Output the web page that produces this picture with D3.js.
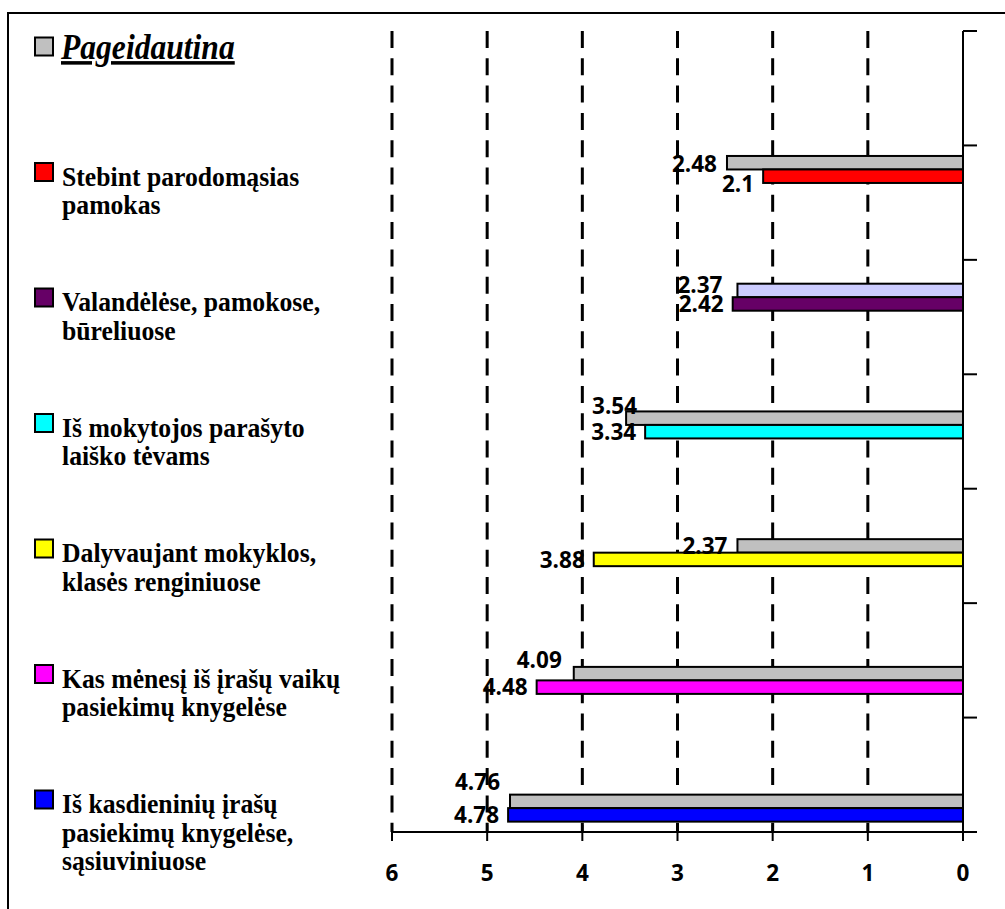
<!DOCTYPE html>
<html>
<head>
<meta charset="utf-8">
<script src="https://cdn.jsdelivr.net/npm/d3@7"></script>
<style>
  html, body { margin: 0; padding: 0; background: #fff; }
  svg { display: block; }
</style>
</head>
<body>
<svg id="chart" width="1005" height="909"></svg>
<script>
// ---- data ----
const categories = [
  "Stebint parodomąsias pamokas",
  "Valandėlėse, pamokose, būreliuose",
  "Iš mokytojos parašyto laiško tėvams",
  "Dalyvaujant mokyklos, klasės renginiuose",
  "Kas mėnesį iš įrašų vaikų pasiekimų knygelėse",
  "Iš kasdieninių įrašų pasiekimų knygelėse, sąsiuviniuose"
];
const categoryLines = [
  ["Stebint parodomąsias", "pamokas"],
  ["Valandėlėse, pamokose,", "būreliuose"],
  ["Iš mokytojos parašyto", "laiško tėvams"],
  ["Dalyvaujant mokyklos,", "klasės renginiuose"],
  ["Kas mėnesį iš įrašų vaikų", "pasiekimų knygelėse"],
  ["Iš kasdieninių įrašų", "pasiekimų knygelėse,", "sąsiuviniuose"]
];
const pageidautina = [2.48, 2.37, 3.54, 2.37, 4.09, 4.76];
const esama = [2.1, 2.42, 3.34, 3.88, 4.48, 4.78];
const legendTitle = "Pageidautina";
const xTicks = [6, 5, 4, 3, 2, 1, 0];

// ---- styles / layout ----
const grayColors = ["#C0C0C0", "#CCCCFF", "#C0C0C0", "#C0C0C0", "#C0C0C0", "#C0C0C0"];
const catColors = ["#FF0000", "#660066", "#00FFFF", "#FFFF00", "#FF00FF", "#0000FF"];
// manual label nudges (layout only) for the first series labels
const grayLabelDy = [1, -6, -12, 0, -14, -19];
const grayLabelDx = [0, -5, 21, 0, -2, 0];

const svg = d3.select("#chart");

// frame (top & left edges visible)
svg.append("line").attr("x1", 8).attr("y1", 13).attr("x2", 1005).attr("y2", 13)
  .attr("stroke", "#000").attr("stroke-width", 2);
svg.append("line").attr("x1", 8).attr("y1", 12).attr("x2", 8).attr("y2", 909)
  .attr("stroke", "#000").attr("stroke-width", 2);

const x = d3.scaleLinear().domain([0, 6]).range([963, 392]);
const y = d3.scaleBand().domain(categories).range([105.6, 872]).padding(0);
const plotTop = 31, plotBottom = 832;
const barH = 13.5;

// dashed gridlines
svg.append("g").selectAll("line").data(xTicks.filter(d => d !== 0)).join("line")
  .attr("x1", d => x(d)).attr("x2", d => x(d))
  .attr("y1", plotTop).attr("y2", plotBottom)
  .attr("stroke", "#000").attr("stroke-width", 3)
  .attr("stroke-dasharray", "17,10.3");

// bars
const gBars = svg.append("g");
categories.forEach((c, i) => {
  const cy = y(c) + y.bandwidth() / 2;
  gBars.append("rect")
    .attr("x", x(pageidautina[i])).attr("y", cy - barH)
    .attr("width", x(0) - x(pageidautina[i])).attr("height", barH)
    .attr("fill", grayColors[i]).attr("stroke", "#000").attr("stroke-width", 2);
  gBars.append("rect")
    .attr("x", x(esama[i])).attr("y", cy)
    .attr("width", x(0) - x(esama[i])).attr("height", barH)
    .attr("fill", catColors[i]).attr("stroke", "#000").attr("stroke-width", 2);
});

// data labels
const lblFont = "'Open Sans', 'DejaVu Sans', sans-serif";
const lblSize = 22.5;
const gLbl = svg.append("g").attr("font-family", lblFont).attr("font-weight", 700)
  .attr("font-size", lblSize).attr("fill", "#000").attr("text-anchor", "end");
categories.forEach((c, i) => {
  const cy = y(c) + y.bandwidth() / 2;
  gLbl.append("text")
    .attr("x", x(pageidautina[i]) - 10 + grayLabelDx[i])
    .attr("y", cy - barH / 2 + grayLabelDy[i])
    .attr("dy", "0.36em")
    .text(pageidautina[i]);
  gLbl.append("text")
    .attr("x", x(esama[i]) - 9)
    .attr("y", cy + barH / 2 + (i === 0 ? 8 : 0))
    .attr("dy", "0.36em")
    .text(esama[i]);
});

// right (category) axis line and tick marks
svg.append("line").attr("x1", x(0)).attr("x2", x(0)).attr("y1", plotTop).attr("y2", plotBottom)
  .attr("stroke", "#000").attr("stroke-width", 2);
const tickY = d3.scaleLinear().domain([0, 7]).range([plotTop, plotBottom]);
svg.append("g").selectAll("line").data(d3.range(8)).join("line")
  .attr("x1", x(0)).attr("x2", x(0) + 14)
  .attr("y1", d => tickY(d)).attr("y2", d => tickY(d))
  .attr("stroke", "#000").attr("stroke-width", 2);

// bottom axis
svg.append("line").attr("x1", x(6) - 1).attr("x2", x(0) + 14).attr("y1", plotBottom).attr("y2", plotBottom)
  .attr("stroke", "#000").attr("stroke-width", 2);
svg.append("g").selectAll("line").data(xTicks).join("line")
  .attr("x1", d => x(d)).attr("x2", d => x(d))
  .attr("y1", plotBottom - 7).attr("y2", plotBottom + 9)
  .attr("stroke", "#000").attr("stroke-width", 2);
svg.append("g").attr("font-family", lblFont).attr("font-weight", 700).attr("font-size", lblSize)
  .attr("text-anchor", "middle")
  .selectAll("text").data(xTicks).join("text")
  .attr("x", d => x(d)).attr("y", 873).attr("dy", "0.36em")
  .text(d => d);

// legend
const legendY = d3.scaleLinear().domain([0, 6]).range([47, 800]);
const gLeg = svg.append("g");
const serif = "'Liberation Serif', 'Times New Roman', serif";
function legendSwatch(cy, color) {
  gLeg.append("rect").attr("x", 35).attr("y", cy - 9.5).attr("width", 18).attr("height", 18)
    .attr("fill", color).attr("stroke", "#000").attr("stroke-width", 2);
}
legendSwatch(legendY(0), grayColors[0]);
gLeg.append("text")
  .attr("transform", `translate(61,${legendY(0) + 12}) scale(1,1.12)`)
  .attr("font-family", serif).attr("font-weight", 700).attr("font-style", "italic")
  .attr("font-size", 31.6).attr("text-decoration", "underline")
  .text(legendTitle);
categories.forEach((c, i) => {
  const cy = legendY(i + 1);
  legendSwatch(cy, catColors[i]);
  const t = gLeg.append("text")
    .attr("transform", `translate(62,${cy + 13}) scale(1,1.08)`)
    .attr("font-family", serif).attr("font-weight", 700).attr("font-size", 25.7);
  categoryLines[i].forEach((ln, k) => {
    t.append("tspan").attr("x", 0).attr("y", k * 26.4).text(ln);
  });
});
</script>
</body>
</html>
